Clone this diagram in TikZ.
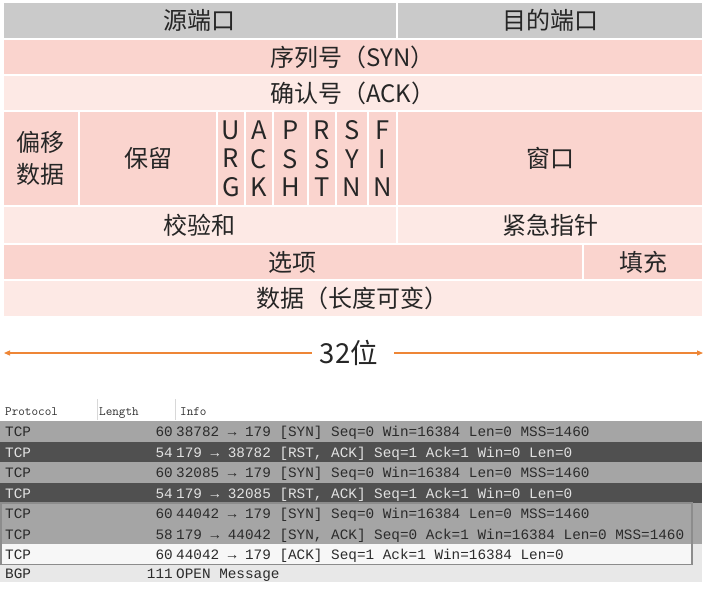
\documentclass[tikz,border=0pt]{standalone}
\usepackage{fontspec}
\setmainfont{Noto Sans CJK SC}
\newfontfamily\monofont[WordSpace={1,0,0}]{Liberation Mono}
\usetikzlibrary{arrows.meta}
\definecolor{grayA}{HTML}{CACACA}
\definecolor{pinkA}{HTML}{FAD4CE}
\definecolor{pinkB}{HTML}{FDE9E5}
\definecolor{txt}{HTML}{262626}
\definecolor{orangeA}{HTML}{EE8636}
\definecolor{wsmid}{HTML}{A5A5A5}
\definecolor{wsdark}{HTML}{505050}
\definecolor{wswhite}{HTML}{F7F7F7}
\definecolor{wslight}{HTML}{E8E8E8}
\definecolor{wstxt}{HTML}{2B2B2B}
\definecolor{wstxtlight}{HTML}{E2E2E2}
\definecolor{wsbox}{HTML}{8C8C8C}
\definecolor{wshdr}{HTML}{303030}
\definecolor{wssep}{HTML}{D8D8D8}
\newcommand{\tcpcell}[8][lbl]{%
  \path[cell,fill=#6] (#2,#3) rectangle (#4,#5);
  \node[#1] (#7) at ({(#2+#4)/2},{(#3+#5)/2}) {#8};}
\newcommand{\wsrow}[8]{%
  \fill[#3] (0,#1) rectangle (702,#2);
  \node[wstext,text=#4,anchor=base west] (#5p) at (5,{(#1+#2)/2+5.3}) {#6};
  \node[wstext,text=#4,anchor=base east] (#5l) at (173,{(#1+#2)/2+5.3}) {#7};
  \node[wstext,text=#4,anchor=base west] (#5i) at (176,{(#1+#2)/2+5.3}) {#8};}
\begin{document}
\begin{tikzpicture}[x=1pt,y=-1pt,
  cell/.style={draw=white,line width=2pt},
  lbl/.style={font=\fontsize{24}{32}\selectfont,text=txt,inner sep=0pt,align=center},
  flag/.style={font=\fontsize{25.5}{28.5}\selectfont,text=txt,inner sep=0pt,align=center},
  bitline/.style={draw=orangeA,line width=1.2pt,-{Triangle[length=6pt,width=5pt]}},
  wstext/.style={font=\monofont\fontsize{14.35}{16}\selectfont,inner sep=0pt},
  hdr/.style={font=\ttfamily\fontsize{12.8}{14}\selectfont,text=wshdr,inner sep=0pt,anchor=base west}]
\useasboundingbox (0,0) rectangle (708,590);
\fill[white] (0,0) rectangle (708,590);
% ---- TCP header layout ----
\tcpcell{2.5}{2}{397}{38.8}{grayA}{src}{源端口}
\tcpcell{397}{2}{703}{38.8}{grayA}{dst}{目的端口}
\tcpcell{2.5}{38.8}{703}{75.3}{pinkA}{seq}{序列号（SYN）}
\tcpcell{2.5}{75.3}{703}{111.3}{pinkB}{ackn}{确认号（ACK）}
\tcpcell{2.5}{111.3}{79}{206.3}{pinkA}{off}{偏移\\数据}
\tcpcell{79}{111.3}{217}{206.3}{pinkA}{rsv}{保留}
\tcpcell[flag]{217}{111.3}{245}{206.3}{pinkA}{furg}{U\\R\\G}
\tcpcell[flag]{245}{111.3}{273}{206.3}{pinkA}{fack}{A\\C\\K}
\tcpcell[flag]{273}{111.3}{308}{206.3}{pinkA}{fpsh}{P\\S\\H}
\tcpcell[flag]{308}{111.3}{336}{206.3}{pinkA}{frst}{R\\S\\T}
\tcpcell[flag]{336}{111.3}{368}{206.3}{pinkA}{fsyn}{S\\Y\\N}
\tcpcell[flag]{368}{111.3}{397}{206.3}{pinkA}{ffin}{F\\I\\N}
\tcpcell{397}{111.3}{703}{206.3}{pinkA}{win}{窗口}
\tcpcell{2.5}{206.3}{397}{243.8}{pinkB}{chk}{校验和}
\tcpcell{397}{206.3}{703}{243.8}{pinkB}{urg}{紧急指针}
\tcpcell{2.5}{243.8}{583}{280.3}{pinkA}{opt}{选项}
\tcpcell{583}{243.8}{703}{280.3}{pinkA}{pad}{填充}
\tcpcell{2.5}{280.3}{703}{317}{pinkB}{data}{数据（长度可变）}
% ---- 32 bit arrow ----
\node[font=\fontsize{27.5}{30}\selectfont,text=txt,inner xsep=8pt,inner ysep=0pt] (bits) at (349,353) {32位};
\coordinate (lend) at (4,353);
\coordinate (rend) at (703,353);
\draw[bitline] (bits.west) -- (lend);
\draw[bitline] ([xshift=8pt]bits.east) -- (rend);
% ---- packet list ----
\node[hdr] (hproto) at (5,415) {Protocol};
\node[hdr] (hlen) at (99,415) {Length};
\node[hdr] (hinfo) at (180,415) {Info};
\draw[wssep,line width=0.8pt] (97,399) -- (97,420);
\draw[wssep,line width=0.8pt] (175,399) -- (175,420);
\wsrow{421}{441.5}{wsmid}{wstxt}{ra}{TCP}{60}{38782 → 179 [SYN] Seq=0 Win=16384 Len=0 MSS=1460}
\wsrow{441.5}{462}{wsdark}{wstxtlight}{rb}{TCP}{54}{179 → 38782 [RST, ACK] Seq=1 Ack=1 Win=0 Len=0}
\wsrow{462}{482.5}{wsmid}{wstxt}{rc}{TCP}{60}{32085 → 179 [SYN] Seq=0 Win=16384 Len=0 MSS=1460}
\wsrow{482.5}{503}{wsdark}{wstxtlight}{rd}{TCP}{54}{179 → 32085 [RST, ACK] Seq=1 Ack=1 Win=0 Len=0}
\wsrow{503}{523.5}{wsmid}{wstxt}{re}{TCP}{60}{44042 → 179 [SYN] Seq=0 Win=16384 Len=0 MSS=1460}
\wsrow{523.5}{544}{wsmid}{wstxt}{rf}{TCP}{58}{179 → 44042 [SYN, ACK] Seq=0 Ack=1 Win=16384 Len=0 MSS=1460}
\wsrow{544}{564.5}{wswhite}{wstxt}{rg}{TCP}{60}{44042 → 179 [ACK] Seq=1 Ack=1 Win=16384 Len=0}
\fill[wslight] (692,544) rectangle (702,564.5);
\wsrow{564.5}{582}{wslight}{wstxt}{rh}{BGP}{111}{OPEN Message}
\draw[wsbox,line width=1.5pt] (0.75,503) rectangle (692,564.5);
\end{tikzpicture}
\end{document}
